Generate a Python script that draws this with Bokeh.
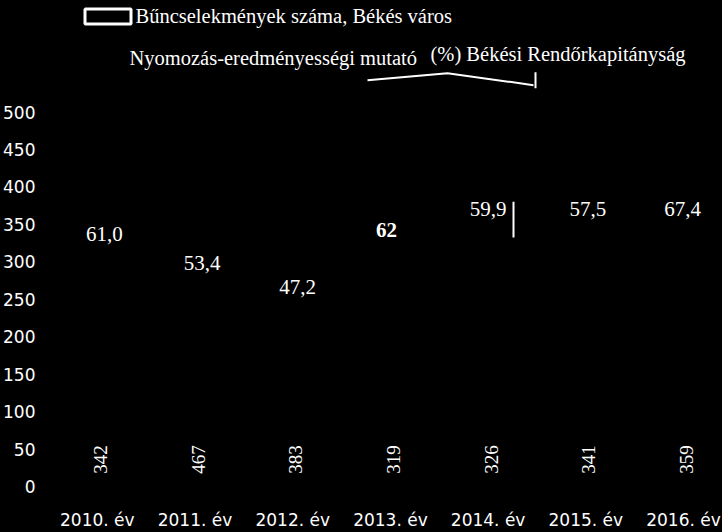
import math
from bokeh.plotting import figure
from bokeh.models import Range1d, FixedTicker, ColumnDataSource
from bokeh.core.properties import value
from bokeh.embed import file_html
from bokeh.resources import INLINE

# ---- data ----
years = ["2010. év", "2011. év", "2012. év", "2013. év", "2014. év", "2015. év", "2016. év"]
crimes = [342, 467, 383, 319, 326, 341, 359]
rate = [61.0, 53.4, 47.2, 62.0, 59.9, 57.5, 67.4]
rate_labels = ["61,0", "53,4", "47,2", "62", "59,9", "57,5", "67,4"]
y_ticks = [0, 50, 100, 150, 200, 250, 300, 350, 400, 450, 500]
legend_crimes = "Bűncselekmények száma, Békés város"
legend_rate_a = "Nyomozás-eredményességi mutató"
legend_rate_b = "(%) Békési Rendőrkapitányság"

# ---- layout / style ----
W, H = 722, 532
LEFT, BOTTOM = 48, 44
X0, X1 = -0.5, 6.399
Y1 = 648.9              # primary axis top (frame top)
P0, P1 = -4.4, 121.4    # secondary (percent) axis, hidden
FRAME_W = W - LEFT
FRAME_H = H - BOTTOM
SERIF = "Liberation Serif"
SANS = "DejaVu Sans"

def sx(px):  # canvas px -> data x (legend decoration only)
    return X0 + (px - LEFT) / FRAME_W * (X1 - X0)

def sy(py):  # canvas px -> data y (legend decoration only)
    return (FRAME_H - py) / FRAME_H * Y1

xs = list(range(len(years)))

p = figure(width=W, height=H, output_backend="svg", toolbar_location=None,
           x_range=Range1d(X0, X1), y_range=Range1d(0, Y1),
           min_border_left=LEFT, min_border_right=0, min_border_top=0,
           min_border_bottom=BOTTOM)
p.extra_y_ranges = {"pct": Range1d(P0, P1)}
p.background_fill_color = "black"
p.border_fill_color = "black"
p.outline_line_color = None
p.xgrid.visible = False
p.ygrid.visible = False

# bars (black on black as in the scan)
p.vbar(x=xs, top=crimes, width=0.55, fill_color="black", line_color="black")
# percent line (black as in the scan)
p.line(x=xs, y=rate, y_range_name="pct", line_color="black", line_width=2)

# bar value labels, rotated, near the base
p.text(x=xs, y=[0] * len(xs), text=[str(v) for v in crimes], angle=math.pi / 2,
       x_offset=3, y_offset=-27, text_align="center", text_baseline="middle",
       text_color="white", text_font=value(SERIF), text_font_size="19px")

# percent labels
src = ColumnDataSource(dict(
    x=xs, y=rate, t=rate_labels,
    xo=[7, 7, 5, -4, 0, 2, -1],
    yo=[0, 0, 0, 0, -29, -38, 0],
    fs=["normal", "normal", "normal", "bold", "normal", "normal", "normal"],
))
p.text(x="x", y="y", text="t", x_offset="xo", y_offset="yo", source=src,
       y_range_name="pct", text_align="center", text_baseline="middle",
       text_color="white", text_font=value(SERIF), text_font_size="21px",
       text_font_style="fs")
# scan mark next to the 2014 label
p.line(x=[sx(513), sx(513)], y=[sy(202), sy(238)], line_color="white", line_width=2)

# legend (drawn by hand, as in the reference)
p.rect(x=[sx(107.5)], y=[sy(16)], width=46, height=15, width_units="screen",
       height_units="screen", fill_color=None, line_color="white", line_width=3)
p.text(x=[sx(135)], y=[sy(16)], text=[legend_crimes], text_align="left",
       text_baseline="middle", text_color="white", text_font=value(SERIF),
       text_font_size="20.5px")
p.text(x=[sx(129)], y=[sy(58)], text=[legend_rate_a], text_align="left",
       text_baseline="middle", text_color="white", text_font=value(SERIF),
       text_font_size="20.5px")
p.text(x=[sx(430)], y=[sy(54)], text=[legend_rate_b], text_align="left",
       text_baseline="middle", text_color="white", text_font=value(SERIF),
       text_font_size="20.5px")
# bracket line under the legend text
p.line(x=[sx(367), sx(447), sx(533)], y=[sy(80), sy(73), sy(85)],
       line_color="white", line_width=2)
p.line(x=[sx(535), sx(535)], y=[sy(72), sy(88)], line_color="white", line_width=2)

# axes
p.xaxis.ticker = FixedTicker(ticks=xs)
p.xaxis.major_label_overrides = {i: y for i, y in enumerate(years)}
p.yaxis.ticker = FixedTicker(ticks=y_ticks)
for ax in (p.xaxis[0], p.yaxis[0]):
    ax.axis_line_color = None
    ax.major_tick_line_color = None
    ax.minor_tick_line_color = None
    ax.major_tick_out = 0
    ax.major_tick_in = 0
    ax.minor_tick_out = 0
    ax.major_label_text_color = "white"
    ax.major_label_text_font = SANS
p.xaxis.major_label_text_font_size = "17px"
p.yaxis.major_label_text_font_size = "17px"
p.xaxis.major_label_standoff = 23
p.yaxis.major_label_standoff = 13

tpl = ("{% block postamble %}<style>html,body{background:#000;margin:0;padding:0;}"
       "</style>{% endblock %}")
try:
    html = file_html(p, INLINE, template=tpl)
except Exception:
    html = file_html(p, INLINE)
open("out.html", "w").write(html)
